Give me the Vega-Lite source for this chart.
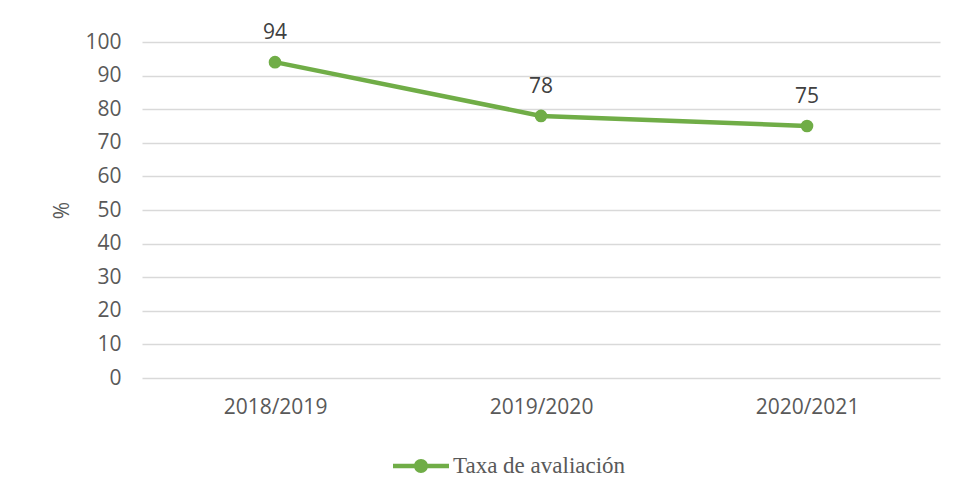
{
  "$schema": "https://vega.github.io/schema/vega-lite/v6.json",
  "width": 798,
  "height": 336,
  "autosize": {"type": "none"},
  "padding": {"left": 142, "top": 42, "right": 17, "bottom": 113},
  "background": "white",
  "config": {"view": {"stroke": null}, "font": "Open Sans"},
  "data": {"values": [
    {"ano": "2018/2019", "valor": 94, "serie": "Taxa de avaliación"},
    {"ano": "2019/2020", "valor": 78, "serie": "Taxa de avaliación"},
    {"ano": "2020/2021", "valor": 75, "serie": "Taxa de avaliación"}
  ]},
  "encoding": {
    "x": {"field": "ano", "type": "ordinal", "scale": {"type": "point", "padding": 0.5},
      "axis": {"title": null, "labelAngle": 0, "domain": false, "ticks": false, "labelPadding": 18, "labelFontSize": 21, "labelColor": "#595959", "labelFont": "Open Sans"}},
    "y": {"field": "valor", "type": "quantitative", "scale": {"domain": [0, 100]},
      "axis": {"title": "%", "values": [0,10,20,30,40,50,60,70,80,90,100], "domain": false, "ticks": false, "labelPadding": 21, "labelFontSize": 21, "labelColor": "#595959", "gridColor": "#d9d9d9", "gridWidth": 1.3, "titleFontSize": 21, "titleFontWeight": "normal", "titleColor": "#595959", "titleX": -80, "titleY": 168, "titleAngle": -90, "titleAlign": "center", "titleBaseline": "middle", "labelFont": "Open Sans", "titleFont": "Open Sans"}}
  },
  "layer": [
    {
      "mark": {"type": "line", "strokeWidth": 4.5, "point": {"size": 160, "filled": true, "opacity": 1}},
      "encoding": {
        "color": {"field": "serie", "type": "nominal", "scale": {"range": ["#70AD47"]},
          "legend": {"title": null, "orient": "none", "legendX": 251, "legendY": 396, "symbolType": "M-1,-0.08H1V0.08H-1Z M0.25,0 A0.25,0.25 0 1,1 -0.25,0 A0.25,0.25 0 1,1 0.25,0Z", "symbolSize": 3136, "symbolStrokeWidth": 0, "labelFont": "Liberation Serif", "labelFontSize": 23, "labelColor": "#595959", "labelOffset": 4, "labelLimit": 500}}
      }
    },
    {
      "mark": {"type": "text", "dy": -29, "fontSize": 21, "color": "#404040", "font": "Open Sans"},
      "encoding": {"text": {"field": "valor", "type": "quantitative"}}
    }
  ]
}
